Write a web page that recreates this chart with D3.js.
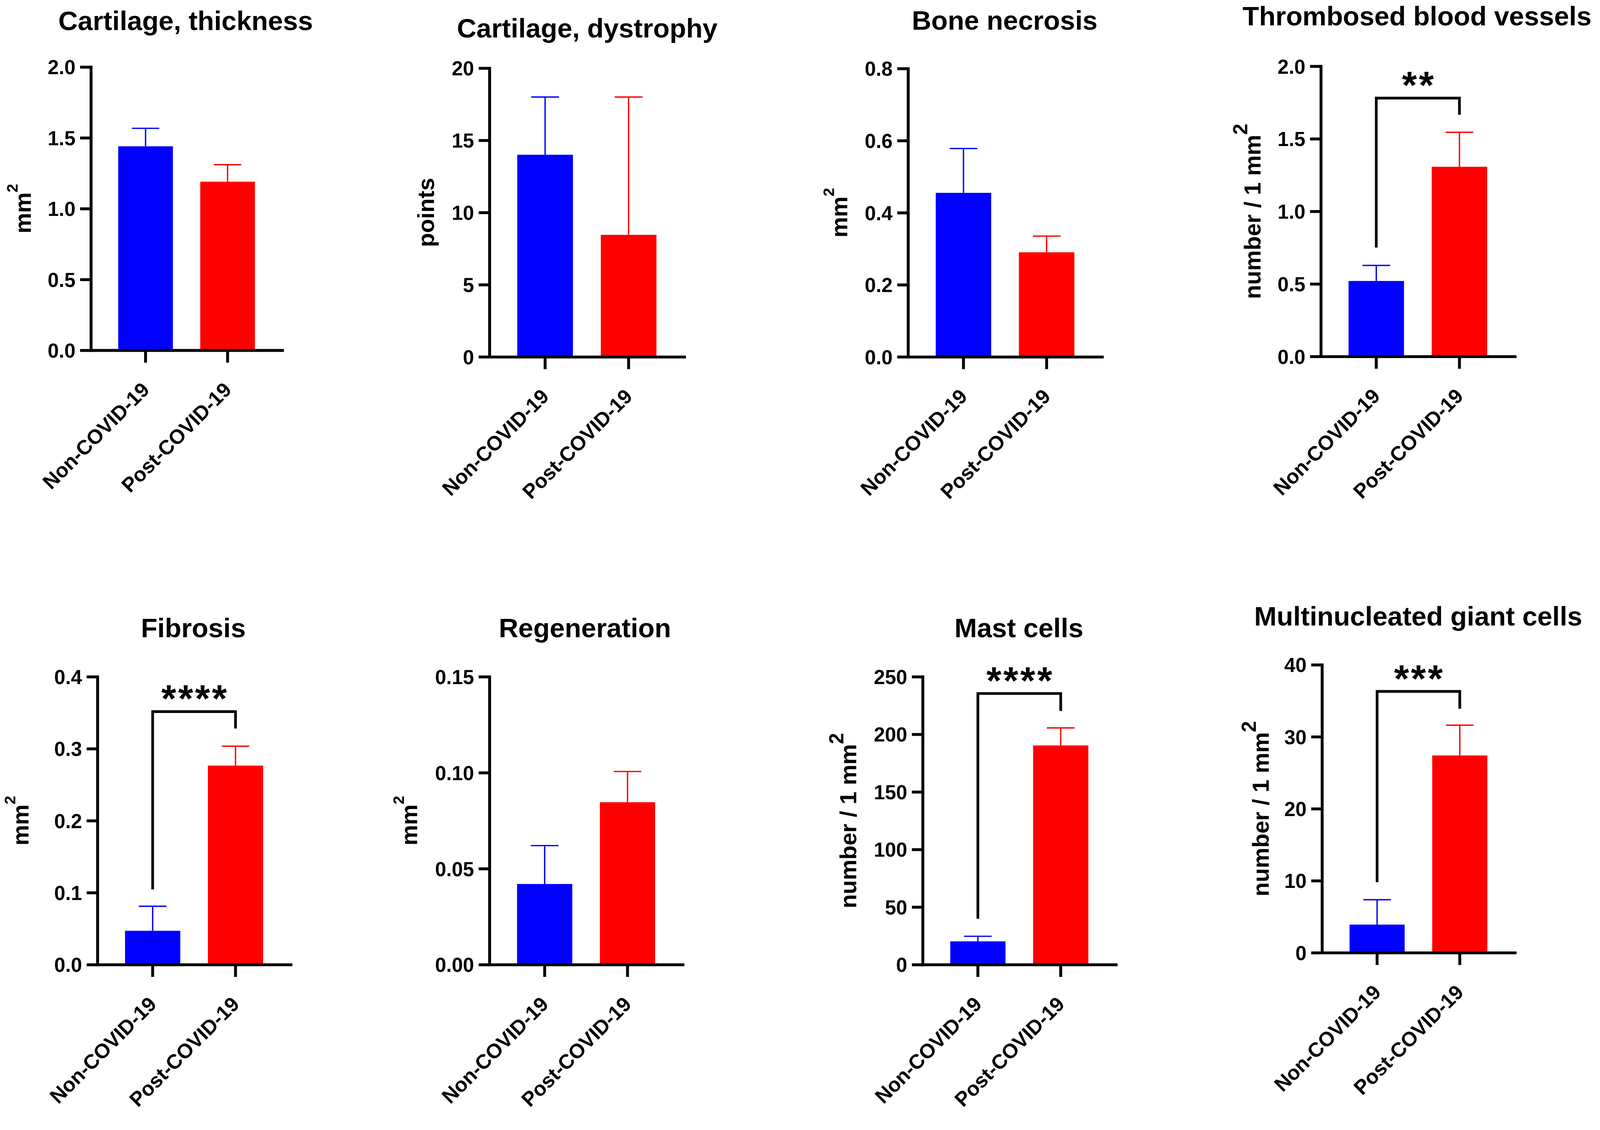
<!DOCTYPE html>
<html>
<head>
<meta charset="utf-8">
<script src="https://cdn.jsdelivr.net/npm/d3@7"></script>
<style>
  html, body { margin: 0; padding: 0; width: 100%; height: 100%; overflow: hidden; background: #fff; }
  svg { display: block; background: #fff; }
  text { font-family: "Liberation Sans", Arial, Helvetica, sans-serif; font-weight: bold; fill: #000; }
</style>
</head>
<body>
<svg id="chart" width="100%" height="100%" viewBox="0 0 4155 2894" preserveAspectRatio="xMidYMin meet"></svg>
<script>
// ---------------- DATA ----------------
const titles = ["Cartilage, thickness", "Cartilage, dystrophy", "Bone necrosis", "Thrombosed blood vessels",
                "Fibrosis", "Regeneration", "Mast cells", "Multinucleated giant cells"];
const yLabels = ["mm", "points", "mm", "number / 1 mm", "mm", "mm", "number / 1 mm", "number / 1 mm"];
const yLabelSup = ["2", "", "2", "2", "2", "2", "2", "2"];
const groups = ["Non-COVID-19", "Post-COVID-19"];

const nonCovidMean = [1.44, 14.0, 0.455, 0.52, 0.047, 0.042, 20.2, 3.9];
const nonCovidSem  = [0.127, 4.0, 0.123, 0.107, 0.034, 0.020, 4.4, 3.46];
const postCovidMean = [1.19, 8.45, 0.29, 1.307, 0.2765, 0.0846, 190.3, 27.4];
const postCovidSem  = [0.12, 9.55, 0.045, 0.238, 0.027, 0.016, 15.2, 4.2];

const yMax = [2, 20, 0.8, 2, 0.4, 0.15, 250, 40];
const yTicks = [
  [0, 0.5, 1.0, 1.5, 2.0],
  [0, 5, 10, 15, 20],
  [0, 0.2, 0.4, 0.6, 0.8],
  [0, 0.5, 1.0, 1.5, 2.0],
  [0, 0.1, 0.2, 0.3, 0.4],
  [0, 0.05, 0.10, 0.15],
  [0, 50, 100, 150, 200, 250],
  [0, 10, 20, 30, 40]
];
const yDecimals = [1, 0, 1, 1, 1, 2, 0, 0];

const sigLabel = ["", "", "", "**", "****", "", "****", "***"];
const bracketTop      = [null, null, null, 1.78, 0.3515, null, 235.4, 36.3];
const bracketLeftEnd  = [null, null, null, 0.75, 0.1045, null, 39.8, 9.8];
const bracketRightEnd = [null, null, null, 1.665, 0.328, null, 220.3, 33.9];

// ---------------- LAYOUT / STYLE ----------------
const colors = ["#0000FF", "#FF0000"];
const layout = [
  {xL: 236,  xR: 733,  y0: 910,  yTop: 174,  tx: 482,  ty: 78,   lx: 80,   sup: 40},
  {xL: 1271, xR: 1777, y0: 927,  yTop: 177,  tx: 1525, ty: 97,   lx: 1127, sup: 40},
  {xL: 2358, xR: 2862, y0: 927,  yTop: 178,  tx: 2609, ty: 77,   lx: 2200, sup: 40},
  {xL: 3430, xR: 3934, y0: 926,  yTop: 172,  tx: 3680, ty: 66,   lx: 3273, sup: 52},
  {xL: 253,  xR: 755,  y0: 2506, yTop: 1758, tx: 502,  ty: 1656, lx: 74,   sup: 40},
  {xL: 1271, xR: 1773, y0: 2506, yTop: 1758, tx: 1519, ty: 1656, lx: 1083, sup: 40},
  {xL: 2396, xR: 2898, y0: 2506, yTop: 1758, tx: 2646, ty: 1656, lx: 2224, sup: 52},
  {xL: 3433, xR: 3934, y0: 2475, yTop: 1727, tx: 3683, ty: 1625, lx: 3295, sup: 52}
];
const AXIS_W = 7.5, ERR_W = 3.5, BRACKET_W = 7;

const svg = d3.select("#chart");
svg.append("rect").attr("width", 4155).attr("height", 2894).attr("fill", "#fff");

titles.forEach((title, i) => {
  const L = layout[i];
  const g = svg.append("g");
  const y = d3.scaleLinear().domain([0, yMax[i]]).range([L.y0, L.yTop]);
  const x = d3.scaleBand().domain(groups).range([L.xL, L.xR]).paddingInner(1 / 3).paddingOuter(1 / 3);
  const bw = x.bandwidth();

  const rows = [
    {g: groups[0], mean: nonCovidMean[i], sem: nonCovidSem[i], c: colors[0]},
    {g: groups[1], mean: postCovidMean[i], sem: postCovidSem[i], c: colors[1]}
  ];

  // bars
  g.selectAll("rect.bar").data(rows).join("rect")
    .attr("class", "bar")
    .attr("x", d => x(d.g))
    .attr("y", d => y(d.mean))
    .attr("width", bw)
    .attr("height", d => y(0) - y(d.mean))
    .attr("fill", d => d.c);

  // error bars (upper SEM)
  g.selectAll("line.err").data(rows).join("line")
    .attr("class", "err")
    .attr("x1", d => x(d.g) + bw / 2).attr("x2", d => x(d.g) + bw / 2)
    .attr("y1", d => y(d.mean)).attr("y2", d => y(d.mean + d.sem))
    .attr("stroke", d => d.c).attr("stroke-width", ERR_W);
  g.selectAll("line.cap").data(rows).join("line")
    .attr("class", "cap")
    .attr("x1", d => x(d.g) + bw / 4).attr("x2", d => x(d.g) + bw * 3 / 4)
    .attr("y1", d => y(d.mean + d.sem)).attr("y2", d => y(d.mean + d.sem))
    .attr("stroke", d => d.c).attr("stroke-width", ERR_W);

  // y axis
  const fmt = d3.format("." + yDecimals[i] + "f");
  const ya = g.append("g").attr("transform", `translate(${L.xL},0)`)
    .call(d3.axisLeft(y).tickValues(yTicks[i]).tickFormat(fmt).tickSize(28).tickSizeOuter(0).tickPadding(12));
  ya.select(".domain").attr("stroke", "#000").attr("stroke-width", AXIS_W).attr("stroke-linecap", "square");
  ya.selectAll(".tick line").attr("stroke", "#000").attr("stroke-width", AXIS_W);
  ya.selectAll(".tick text").style("font-size", "52px").attr("dy", "0.36em");

  // x axis
  const xa = g.append("g").attr("transform", `translate(0,${L.y0})`)
    .call(d3.axisBottom(x).tickSize(32).tickSizeOuter(0));
  xa.select(".domain").attr("stroke", "#000").attr("stroke-width", AXIS_W).attr("stroke-linecap", "square");
  xa.selectAll(".tick line").attr("stroke", "#000").attr("stroke-width", AXIS_W);
  xa.selectAll(".tick text")
    .attr("x", 0).attr("y", 0).attr("dy", 0)
    .attr("text-anchor", "end")
    .attr("transform", "translate(13,106) rotate(-45)")
    .style("font-size", "53px");

  // title
  g.append("text").attr("x", L.tx).attr("y", L.ty).attr("text-anchor", "middle")
    .style("font-size", "70px").text(title);

  // y label
  const yl = g.append("text")
    .attr("transform", `translate(${L.lx},${(L.y0 + L.yTop) / 2}) rotate(-90)`)
    .attr("text-anchor", "middle").style("font-size", "60px");
  yl.append("tspan").text(yLabels[i]);
  if (yLabelSup[i]) {
    yl.append("tspan").attr("dy", -34).style("font-size", L.sup + "px").text(yLabelSup[i]);
  }

  // significance bracket
  if (sigLabel[i]) {
    const xl = x(groups[0]) + bw / 2, xr = x(groups[1]) + bw / 2;
    const path = d3.path();
    path.moveTo(xl, y(bracketLeftEnd[i]));
    path.lineTo(xl, y(bracketTop[i]));
    path.lineTo(xr, y(bracketTop[i]));
    path.lineTo(xr, y(bracketRightEnd[i]));
    g.append("path").attr("d", path.toString()).attr("fill", "none")
      .attr("stroke", "#000").attr("stroke-width", BRACKET_W).attr("stroke-linejoin", "miter");
    g.append("text").attr("x", (xl + xr) / 2 + 2.5).attr("y", y(bracketTop[i]) + 1)
      .attr("text-anchor", "middle").style("font-size", "100px").style("letter-spacing", "5px")
      .text(sigLabel[i]);
  }
});
</script>
</body>
</html>
